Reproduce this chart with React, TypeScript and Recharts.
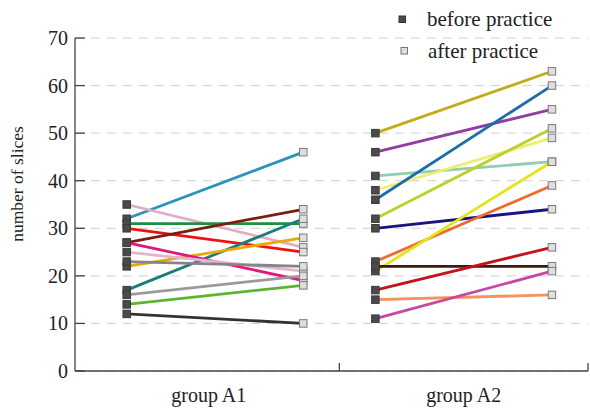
import React from 'react';
import { LineChart, Line, XAxis, YAxis, CartesianGrid, Legend } from 'recharts';

// ---- data ----
const groups = ['group A1', 'group A2'];
const legendLabels = ['before practice', 'after practice'];

const a1Before = [32, 35, 31, 30, 27, 17, 22, 27, 25, 23, 16, 14, 12];
const a1After = [46, 26, 31, 25, 34, 32, 28, 19, 21, 22, 20, 18, 10];
const a1Colors = [
  '#2b93b9', '#dfaec4', '#1f8f3f', '#f01010', '#7b1c0c', '#1b7d7a', '#e9a90a',
  '#e0187e', '#e3b4cf', '#858585', '#9a9a9a', '#5cb52e', '#333333',
];

const a2Before = [50, 46, 41, 38, 36, 32, 30, 23, 21, 22, 17, 15, 11];
const a2After = [63, 55, 44, 49, 60, 51, 34, 39, 44, 22, 26, 16, 21];
const a2Colors = [
  '#c1ad1c', '#8e3fa0', '#8fcfae', '#eeee70', '#1d6ea8', '#b9d12a', '#1a1480',
  '#f06a2a', '#e3e51c', '#3b1a12', '#c3121b', '#f4925d', '#c648a6',
];

const yTicks = [0, 10, 20, 30, 40, 50, 60, 70];

// ---- layout constants ----
const FONT = "'Liberation Serif', 'Times New Roman', serif";
const GROUP_POS = [1, 2];
const HALF = 0.355;
const X_DOMAIN: [number, number] = [0.437, 2.5];
const BOUNDARIES = [1.5, 2.5];
const LABEL_POS = [0.975, 2];

type Series = { id: string; color: string; data: { x: number; y: number }[] };

const buildSeries = (g: number, before: number[], after: number[], colors: string[]): Series[] =>
  before.map((b, i) => ({
    id: `g${g}-${i}`,
    color: colors[i],
    data: [
      { x: GROUP_POS[g] - HALF, y: b },
      { x: GROUP_POS[g] + HALF, y: after[i] },
    ],
  }));

const series: Series[] = [
  ...buildSeries(0, a1Before, a1After, a1Colors),
  ...buildSeries(1, a2Before, a2After, a2Colors),
];

const Marker = (props: any) => {
  const { cx, cy, index } = props;
  if (cx == null || cy == null) return null;
  const s = 7.5;
  const before = index === 0;
  return (
    <rect
      key={`m-${cx}-${cy}-${index}`}
      x={cx - s / 2}
      y={cy - s / 2}
      width={s}
      height={s}
      fill={before ? '#4a4a4a' : '#dedede'}
      stroke={before ? '#3a3a3a' : '#7a7a7a'}
      strokeWidth={1}
    />
  );
};

const XTick = (props: any) => {
  const { x, y, payload } = props;
  const v = payload.value;
  if (BOUNDARIES.indexOf(v) >= 0) {
    return <line x1={x} x2={x} y1={y} y2={y - 8} stroke="#444" strokeWidth={1.3} />;
  }
  const li = LABEL_POS.indexOf(v);
  return (
    <text x={x} y={y + 31} textAnchor="middle" fontSize={20} fontFamily={FONT} fill="#222">
      {groups[li]}
    </text>
  );
};

const YTick = (props: any) => {
  const { x, y, payload } = props;
  return (
    <g>
      <line x1={x + 7} x2={x + 17} y1={y} y2={y} stroke="#444" strokeWidth={1.3} />
      <text x={x} y={y + 7} textAnchor="end" fontSize={20} fontFamily={FONT} fill="#222">
        {payload.value}
      </text>
    </g>
  );
};

const YLabel = () => (
  <text
    transform="translate(23,184) rotate(-90)"
    textAnchor="middle"
    fontSize={17.5}
    fontFamily={FONT}
    fill="#222"
  >
    number of slices
  </text>
);

const LegendContent = () => (
  <svg width={200} height={70} style={{ display: 'block' }}>
    <rect x={9} y={16} width={6.5} height={6.5} fill="#4a4a4a" stroke="#333" strokeWidth={1} />
    <text x={37} y={26} fontSize={21} fontFamily={FONT} fill="#222">
      {legendLabels[0]}
    </text>
    <rect x={11} y={47.5} width={6.5} height={6.5} fill="#e0e0e0" stroke="#777" strokeWidth={1} />
    <text x={38} y={58} fontSize={21} fontFamily={FONT} fill="#222">
      {legendLabels[1]}
    </text>
  </svg>
);

export default function App() {
  return (
    <div style={{ position: 'absolute', left: 0, top: 0, width: 590, height: 409, background: '#fff' }}>
      <LineChart width={590} height={409} margin={{ top: 38, right: 2, bottom: 8, left: 0 }}>
        <CartesianGrid vertical={false} stroke="#d0d0d0" strokeDasharray="9 7" />
        <XAxis
          type="number"
          dataKey="x"
          domain={X_DOMAIN}
          allowDataOverflow
          ticks={[LABEL_POS[0], BOUNDARIES[0], LABEL_POS[1], BOUNDARIES[1]]}
          interval={0}
          tickSize={0}
          tickMargin={0}
          tickLine={false}
          tick={<XTick />}
          height={30}
          axisLine={{ stroke: '#444', strokeWidth: 1.3 }}
        />
        <YAxis
          type="number"
          domain={[0, 70]}
          ticks={yTicks}
          interval={0}
          width={75}
          tickSize={0}
          tickMargin={7}
          tickLine={false}
          tick={<YTick />}
          axisLine={{ stroke: '#444', strokeWidth: 1.3 }}
          label={{ content: () => <YLabel /> }}
        />
        <Legend
          layout="vertical"
          align="center"
          verticalAlign="middle"
          wrapperStyle={{ left: 390, top: 0, width: 200, height: 70 }}
          content={() => <LegendContent />}
        />
        {series.map((s) => (
          <Line
            key={s.id}
            data={s.data}
            dataKey="y"
            stroke={s.color}
            strokeWidth={2.8}
            dot={Marker}
            activeDot={false}
            isAnimationActive={false}
            legendType="none"
          />
        ))}
      </LineChart>
    </div>
  );
}
